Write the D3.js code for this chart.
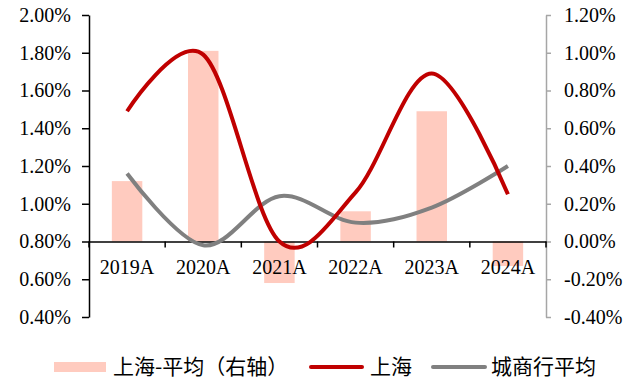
<!DOCTYPE html>
<html>
<head>
<meta charset="utf-8">
<script src="https://cdn.jsdelivr.net/npm/d3@7"></script>
<style>
  body { margin: 0; background: #fff; }
  svg text { font-family: "Liberation Serif", "Times New Roman", serif; }
</style>
</head>
<body>
<div id="chart"></div>
<script>
// DATA ///////////////////////////////////////////////////////////////////////
const years = ["2019A", "2020A", "2021A", "2022A", "2023A", "2024A"];
const diffValues = [0.32, 1.01, -0.22, 0.16, 0.69, -0.13];   // 上海-平均 (右轴), %
const shanghaiValues = [1.49, 1.79, 0.80, 1.06, 1.69, 1.05]; // 上海, %
const cityAvgValues = [1.16, 0.78, 1.04, 0.90, 0.98, 1.20];  // 城商行平均, %
const leftTicks = [0.4, 0.6, 0.8, 1.0, 1.2, 1.4, 1.6, 1.8, 2.0];
const rightTicks = [-0.4, -0.2, 0.0, 0.2, 0.4, 0.6, 0.8, 1.0, 1.2];
const legendNames = ["上海-平均（右轴）", "上海", "城商行平均"];

// CHART //////////////////////////////////////////////////////////////////////
const w = 638, h = 380;
const plotLeft = 89, plotRight = 546, plotTop = 15, plotBottom = 317;
const tickFont = "20px";

const svg = d3.select("#chart").append("svg")
  .attr("width", w)
  .attr("height", h);

const x = d3.scaleBand().domain(years).range([plotLeft, plotRight])
  .paddingInner(0.6).paddingOuter(0.3);
const yL = d3.scaleLinear().domain([0.4, 2.0]).range([plotBottom, plotTop]);
const yR = d3.scaleLinear().domain([-0.4, 1.2]).range([plotBottom, plotTop]);
const fmt = d => d.toFixed(2) + "%";

// bars on the right axis
svg.selectAll("rect.bar")
  .data(diffValues)
  .enter()
  .append("rect")
  .attr("class", "bar")
  .attr("x", (d, i) => x(years[i]))
  .attr("width", x.bandwidth())
  .attr("y", d => d >= 0 ? yR(d) : yR(0))
  .attr("height", d => Math.abs(yR(d) - yR(0)))
  .attr("fill", "#ffcbbf");

// left axis
const axL = svg.append("g")
  .attr("transform", "translate(" + plotLeft + ",0)")
  .call(d3.axisLeft(yL).tickValues(leftTicks).tickFormat(fmt).tickSize(7).tickSizeOuter(0));
axL.select(".domain").attr("stroke", "#000").attr("stroke-width", 1.5);
axL.selectAll(".tick line").attr("stroke", "#000").attr("stroke-width", 1.5);
axL.selectAll(".tick text")
  .attr("x", -18)
  .attr("font-size", tickFont)
  .attr("fill", "#000")
  .style("font-family", "'Liberation Serif', serif");

// right axis
const axR = svg.append("g")
  .attr("transform", "translate(" + plotRight + ",0)")
  .call(d3.axisRight(yR).tickValues(rightTicks).tickFormat(fmt).tickSize(5).tickSizeOuter(0));
axR.select(".domain").attr("stroke", "#a6a6a6").attr("stroke-width", 1.5);
axR.selectAll(".tick line").attr("stroke", "#a6a6a6").attr("stroke-width", 1.5);
axR.selectAll(".tick text")
  .attr("x", 18)
  .attr("font-size", tickFont)
  .attr("fill", "#000")
  .style("font-family", "'Liberation Serif', serif");

// category axis on the zero line
const zeroY = yR(0);
const axX = svg.append("g")
  .attr("transform", "translate(0," + zeroY + ")")
  .call(d3.axisBottom(x).tickSize(0).tickSizeOuter(0));
axX.select(".domain").attr("stroke", "#000").attr("stroke-width", 1.5);
axX.selectAll(".tick text")
  .attr("y", 18)
  .attr("dy", "0.71em")
  .attr("font-size", tickFont)
  .attr("fill", "#000")
  .style("font-family", "'Liberation Serif', serif");

// boundary ticks between categories
const bounds = d3.range(years.length + 1).map(i => plotLeft + i * x.step());
svg.selectAll("line.cat-tick")
  .data(bounds)
  .enter()
  .append("line")
  .attr("class", "cat-tick")
  .attr("x1", d => d).attr("x2", d => d)
  .attr("y1", zeroY).attr("y2", zeroY + 6)
  .attr("stroke", "#000")
  .attr("stroke-width", 1.5);

// smoothed lines on the left axis
const line = d3.line()
  .x((d, i) => x(years[i]) + x.bandwidth() / 2)
  .y(d => yL(d))
  .curve(d3.curveCardinal.tension(0));

svg.append("path")
  .datum(cityAvgValues)
  .attr("d", line)
  .attr("fill", "none")
  .attr("stroke", "#808080")
  .attr("stroke-width", 4);

svg.append("path")
  .datum(shanghaiValues)
  .attr("d", line)
  .attr("fill", "none")
  .attr("stroke", "#c00000")
  .attr("stroke-width", 4);

// legend
const ly = 367;
svg.append("rect")
  .attr("x", 54).attr("y", ly - 5)
  .attr("width", 52).attr("height", 10)
  .attr("fill", "#ffcbbf");
svg.append("line")
  .attr("x1", 311).attr("x2", 362).attr("y1", ly).attr("y2", ly)
  .attr("stroke", "#c00000").attr("stroke-width", 4).attr("stroke-linecap", "round");
svg.append("line")
  .attr("x1", 433).attr("x2", 485).attr("y1", ly).attr("y2", ly)
  .attr("stroke", "#808080").attr("stroke-width", 4).attr("stroke-linecap", "round");

const legendX = [113, 370, 491];
svg.selectAll("text.legend")
  .data(legendNames)
  .enter()
  .append("text")
  .attr("class", "legend")
  .attr("x", (d, i) => legendX[i])
  .attr("y", ly)
  .attr("dy", "0.35em")
  .attr("font-size", "21px")
  .attr("fill", "#000")
  .style("font-family", "'Noto Sans CJK SC', sans-serif")
  .text(d => d);
</script>
</body>
</html>
